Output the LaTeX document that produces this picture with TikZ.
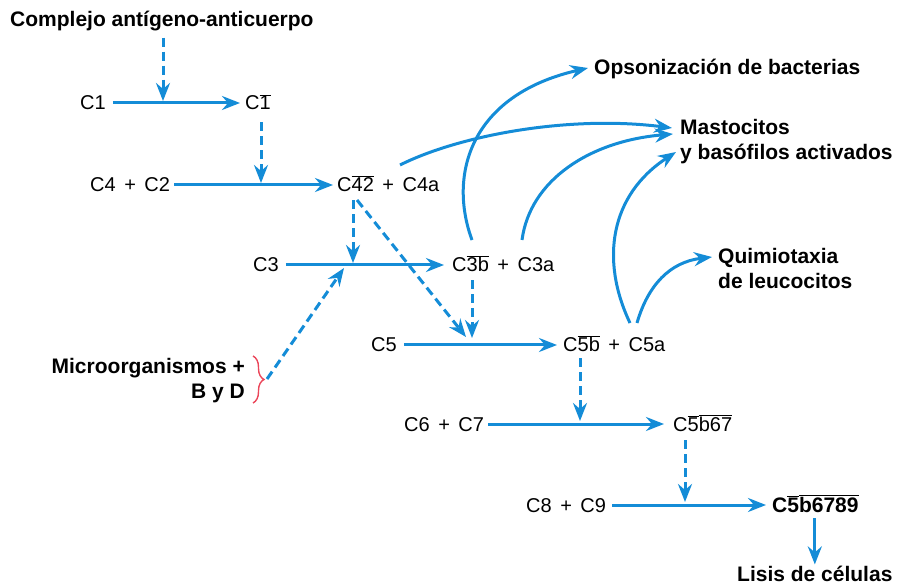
\documentclass[tikz,border=0pt]{standalone}
\usepackage{fontspec}
\setmainfont{Liberation Sans}
\usetikzlibrary{arrows.meta,calc,decorations.pathreplacing}
\definecolor{cblue}{RGB}{20,140,215}
\definecolor{cred}{RGB}{235,70,90}
\newcommand{\ob}[1]{$\overline{\mbox{#1}}$}
\newcommand{\pl}{\hspace{8.5pt}+\hspace{8.5pt}}
\begin{document}
\begin{tikzpicture}[x=1pt,y=-1pt,
 lab/.style={inner sep=0pt, anchor=base west, font=\fontsize{20}{24}\selectfont},
 blab/.style={inner sep=0pt, font=\fontsize{21}{25}\selectfont\bfseries},
 arr/.style={draw=cblue, line width=3pt, -{Stealth[length=18pt,width=14pt,inset=6pt]}},
 darr/.style={arr, dash pattern=on 9pt off 5pt},
]
\useasboundingbox (0,0) rectangle (897,585);
% nodes
\node[blab, anchor=base west] (cx) at (10,27) {Complejo antígeno-anticuerpo};
\node[lab] (c1) at (80,110) {C1};
\node[lab] (c1b) at (245,110) {C\ob{1}};
\node[lab] (c4) at (90,192) {C4\pl C2};
\node[lab] (c42) at (337,192) {C\ob{42}\pl C4a};
\node[lab] (c3) at (253,272) {C3};
\node[lab] (c3b) at (452,272) {C\ob{3b}\pl C3a};
\node[lab] (c5) at (371,352) {C5};
\node[lab] (c5b) at (563,352) {C\ob{5b}\pl C5a};
\node[lab] (c6) at (404,431) {C6\pl C7};
\node[lab] (c567) at (673,431) {C\ob{5}\ob{b67}};
\node[lab] (c8) at (526,512) {C8\pl C9};
\node[blab, anchor=base west] (c56789) at (772,512) {C\ob{5}\ob{b6789}};
\node[blab, anchor=base west] (lisis) at (737,581) {Lisis de células};
\node[blab, anchor=base west] (ops) at (594,75) {Opsonización de bacterias};
\node[blab, anchor=base west] (mast) at (680,135) {Mastocitos};
\node[blab, anchor=base west] (mast2) at (680,160) {y basófilos activados};
\node[blab, anchor=base west] (quim) at (718,264) {Quimiotaxia};
\node[blab, anchor=base west] (quim2) at (718,289) {de leucocitos};
\node[blab, anchor=base east] (micro) at (245,373) {Microorganismos +};
\node[blab, anchor=base east] (byd) at (245,398) {B y D};
% brace
\draw[cred, line width=1.4pt, decorate, decoration={brace, amplitude=11pt, aspect=0.5}] (253,356) -- (253,403);
\coordinate (btip) at (267,379);
% meeting points
\coordinate (m1) at (163,101);
\coordinate (m2) at (261,183);
\coordinate (m3) at (353,263);
\coordinate (m4) at (466,337);
\coordinate (m5) at (472,338);
\coordinate (m6) at (344,268);
\coordinate (m7) at (580,421);
\coordinate (m8) at (685,502);
% horizontal arrows
\draw[arr] ($(c1.base east)+(7,-7)$) -- ($(c1b.base west)+(-5,-7)$);
\draw[arr] ($(c4.base east)+(4,-7)$) -- ($(c42.base west)+(-4,-7)$);
\draw[arr] ($(c3.base east)+(7,-7)$) -- ($(c3b.base west)+(-8,-7)$);
\draw[arr] ($(c5.base east)+(7,-7)$) -- ($(c5b.base west)+(-6,-7)$);
\draw[arr] ($(c6.base east)+(4,-7)$) -- ($(c567.base west)+(-9,-7)$);
\draw[arr] ($(c8.base east)+(6,-7)$) -- ($(c56789.base west)+(-6,-7)$);
% dashed arrows
\draw[darr] ([yshift=-6pt]cx.south -| m1) -- (m1);
\draw[darr] ([yshift=-12pt]c1b.south -| m2) -- (m2);
\draw[darr] ([yshift=-8pt]c42.south -| m3) -- (m3);
\draw[darr] ($(c42.base west)+(20,8)$) -- (m4);
\draw[darr] ([yshift=-8pt]c3b.south -| m5) -- (m5);
\draw[darr] (btip) -- (m6);
\draw[darr] ([yshift=-6pt]c5b.south -| m7) -- (m7);
\draw[darr] ([yshift=-9pt]c567.south -| m8) -- (m8);
\draw[arr] ([yshift=-6pt]c56789.south -| lisis.north) -- ([yshift=1pt]lisis.north);
% curved arrows
\draw[arr] ($(c42.base west)+(63,-27)$) .. controls +(60,-30) and +(-102,-13) .. ($(mast.base west)+(-8,-7)$);
\draw[arr] ($(c3b.base west)+(20,-32)$) .. controls +(-24,-65) and +(-118,27) .. ($(ops.base west)+(-6,-7)$);
\draw[arr] ($(c3b.base west)+(70,-32)$) .. controls +(8,-60) and +(-83,7) .. ($(mast.base west)+(-7,-1)$);
\draw[arr] ($(c5b.base west)+(67,-29)$) .. controls +(-30,-63) and +(-66,43) .. ($(mast2.base west)+(-4,-8)$);
\draw[arr] ($(c5b.base west)+(74,-29)$) .. controls +(11,-38) and +(-42,5) .. ($(quim.base west)+(-6,-7)$);
\end{tikzpicture}
\end{document}
